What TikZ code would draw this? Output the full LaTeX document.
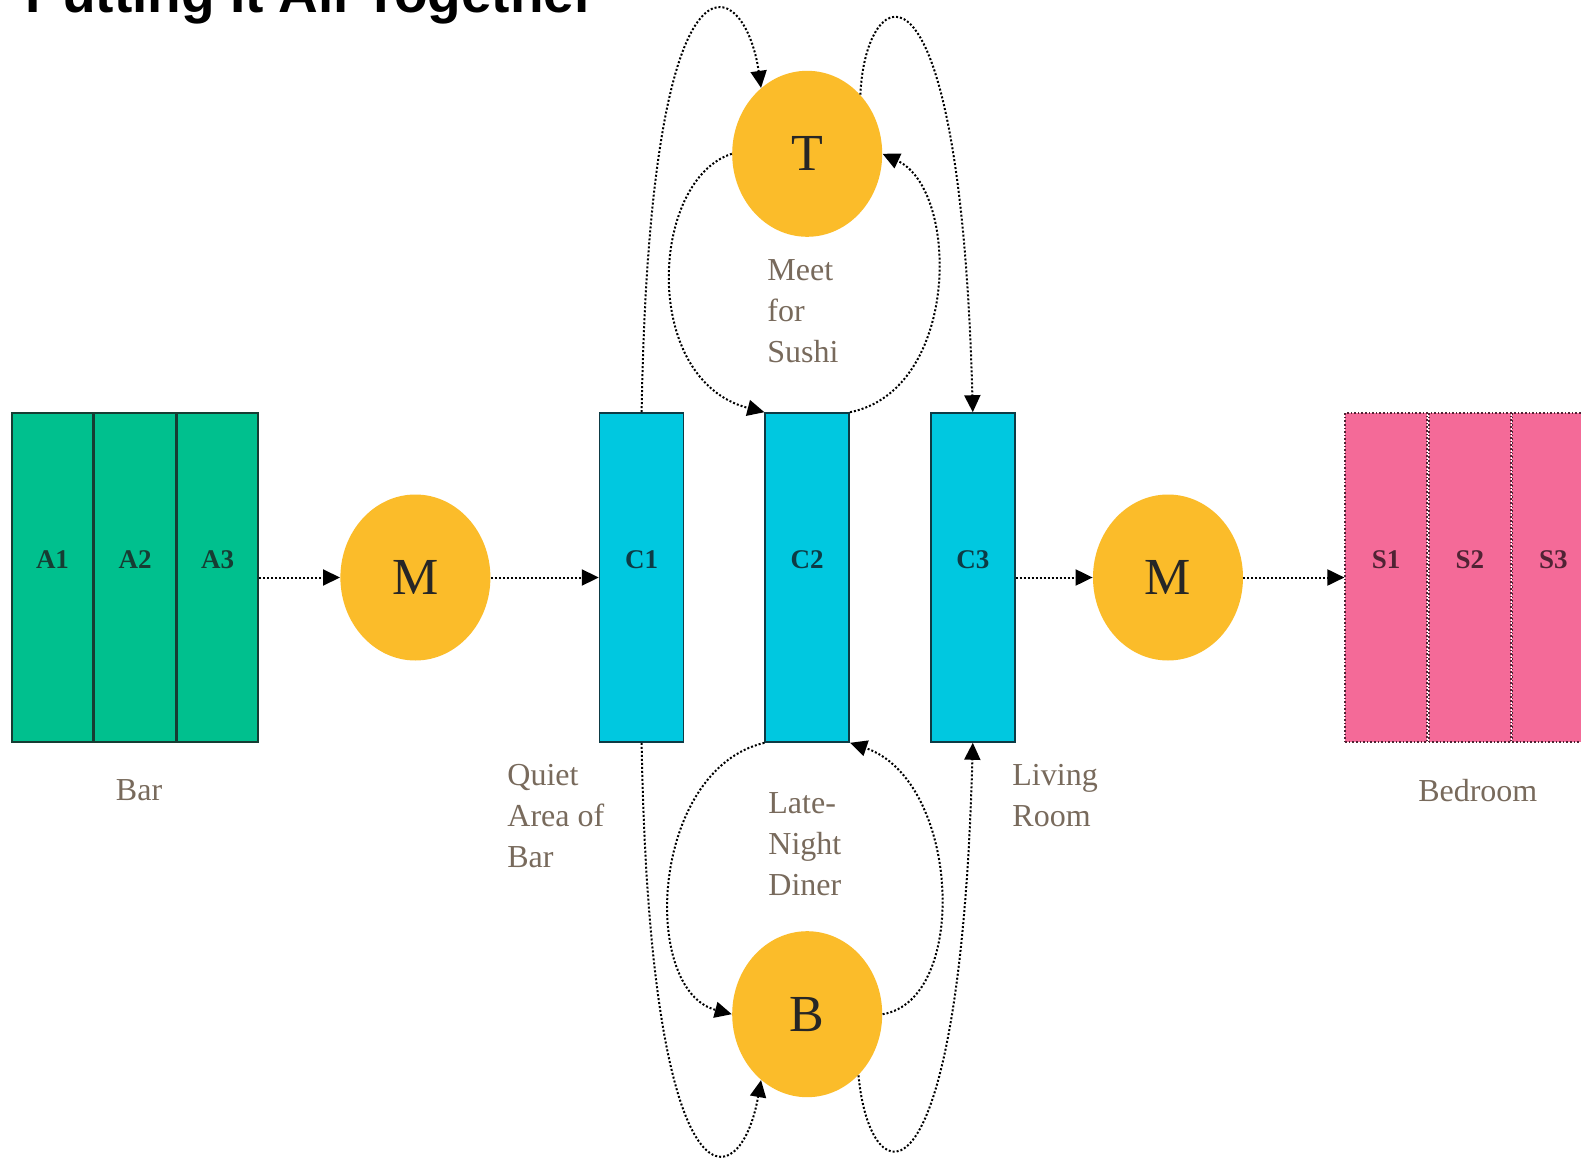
\documentclass[tikz,border=0pt]{standalone}
\usepackage{fontspec}
\setmainfont{Liberation Serif}
\newfontfamily\headfont{Liberation Sans}
\usetikzlibrary{arrows.meta, positioning, shapes.geometric}
\definecolor{bargreen}{RGB}{0,192,142}
\definecolor{bareedge}{RGB}{22,61,51}
\definecolor{roomcyan}{RGB}{0,200,224}
\definecolor{roomedge}{RGB}{13,59,69}
\definecolor{bedpink}{RGB}{244,106,152}
\definecolor{bededge}{RGB}{80,35,52}
\definecolor{gold}{RGB}{251,188,42}
\definecolor{placetext}{RGB}{120,106,92}
\tikzstyle{flow}=[densely dotted, line width=1pt, -{Triangle[length=8.5pt,width=8pt]}]
\tikzstyle{barcell}=[draw=bareedge, fill=bargreen, line width=0.8pt, minimum width=40.5pt, minimum height=164.5pt, inner sep=0pt]
\tikzstyle{bedcell}=[draw=bededge, fill=bedpink, densely dotted, line width=0.8pt, minimum width=41pt, minimum height=164.5pt, inner sep=0pt]
\tikzstyle{roomcell}=[draw=roomedge, fill=roomcyan, line width=0.8pt, minimum width=42pt, minimum height=164.5pt, inner sep=0pt]
\tikzstyle{celltag}=[font=\fontsize{13.5}{16}\selectfont\bfseries, yshift=9pt]
\tikzstyle{mover}=[ellipse, fill=gold, minimum width=75pt, minimum height=83pt, inner sep=0pt, text=black!85, font=\fontsize{26}{30}\selectfont]
\tikzstyle{place}=[text=placetext, inner sep=0pt, align=left, font=\fontsize{16}{20.5}\selectfont]

\begin{document}
\begin{tikzpicture}[x=0.5pt, y=-0.5pt]
            \clip (0,0) rectangle (1581,1161);
            \fill[white] (0,0) rectangle (1581,1161);
            \node[anchor=base west, inner sep=0pt, font=\headfont\fontsize{27.5}{30}\selectfont\bfseries] (title) at (25,13) {Putting It All Together};

            % bar, moves and rooms
            \node[barcell, label={[celltag, text=bareedge]center:A1}] (A1) at (52.5,577.5) {};
            \node[barcell, label={[celltag, text=bareedge]center:A2}] (A2) [right=0pt of A1] {};
            \node[barcell, label={[celltag, text=bareedge]center:A3}] (A3) [right=0pt of A2] {};
            \node[mover]   (M1) [right=40.5pt of A3] {M};
            \node[roomcell, label={[celltag, text=roomedge]center:C1}] (C1) [right=54pt of M1] {};
            \node[roomcell, label={[celltag, text=roomedge]center:C2}] (C2) [right=40pt of C1] {};
            \node[roomcell, label={[celltag, text=roomedge]center:C3}] (C3) [right=40pt of C2] {};
            \node[mover]   (M2) [right=38.5pt of C3] {M};
            \node[bedcell, label={[celltag, text=bededge]center:S1}] (S1) [right=50.5pt of M2] {};
            \node[bedcell, label={[celltag, text=bededge]center:S2}] (S2) [right=0pt of S1] {};
            \node[bedcell, label={[celltag, text=bededge]center:S3}] (S3) [right=0pt of S2] {};
            \node[mover]   (T)  [above=87.5pt of C2] {T};
            \node[mover]   (B)  [below=94pt of C2] {B};

            % place names
            \node[place] (bar)   [below=18pt of A2, xshift=2pt] {Bar};
            \node[place] (bed)   [below=18pt of S2, xshift=4pt] {Bedroom};
            \node[place, anchor=north west] (quiet)  at (507,764) {Quiet\\Area of\\Bar};
            \node[place, anchor=north west] (living) at (1012,764) {Living\\Room};
            \node[place, anchor=north west] (sushi)  at (767,259) {Meet\\for\\Sushi};
            \node[place, anchor=north west] (diner)  at (768,792) {Late-\\Night\\Diner};

            \path[flow]
              (A3) edge (M1)
              (M1) edge (C1)
              (C3) edge (M2)
              (M2) edge (S1);

            \draw[flow] (C1.north) .. controls (650,-80) and (745,-25) .. (T.125);
            \draw[flow] (T.48) .. controls (865,-20) and (960,-70) .. (C3.north);
            \draw[flow] (T.west) .. controls (650,180) and (640,380) .. (C2.north west);
            \draw[flow] (C2.north east) .. controls (960,390) and (960,190) .. (T.east);
            \draw[flow] (C2.south west) .. controls (650,770) and (640,990) .. (B.west);
            \draw[flow] (B.east) .. controls (970,1000) and (960,780) .. (C2.south east);
            \draw[flow] (C1.south) .. controls (650,1220) and (740,1200) .. (B.235);
            \draw[flow] (B.310) .. controls (870,1200) and (960,1220) .. (C3.south);
          \end{tikzpicture}
\end{document}
